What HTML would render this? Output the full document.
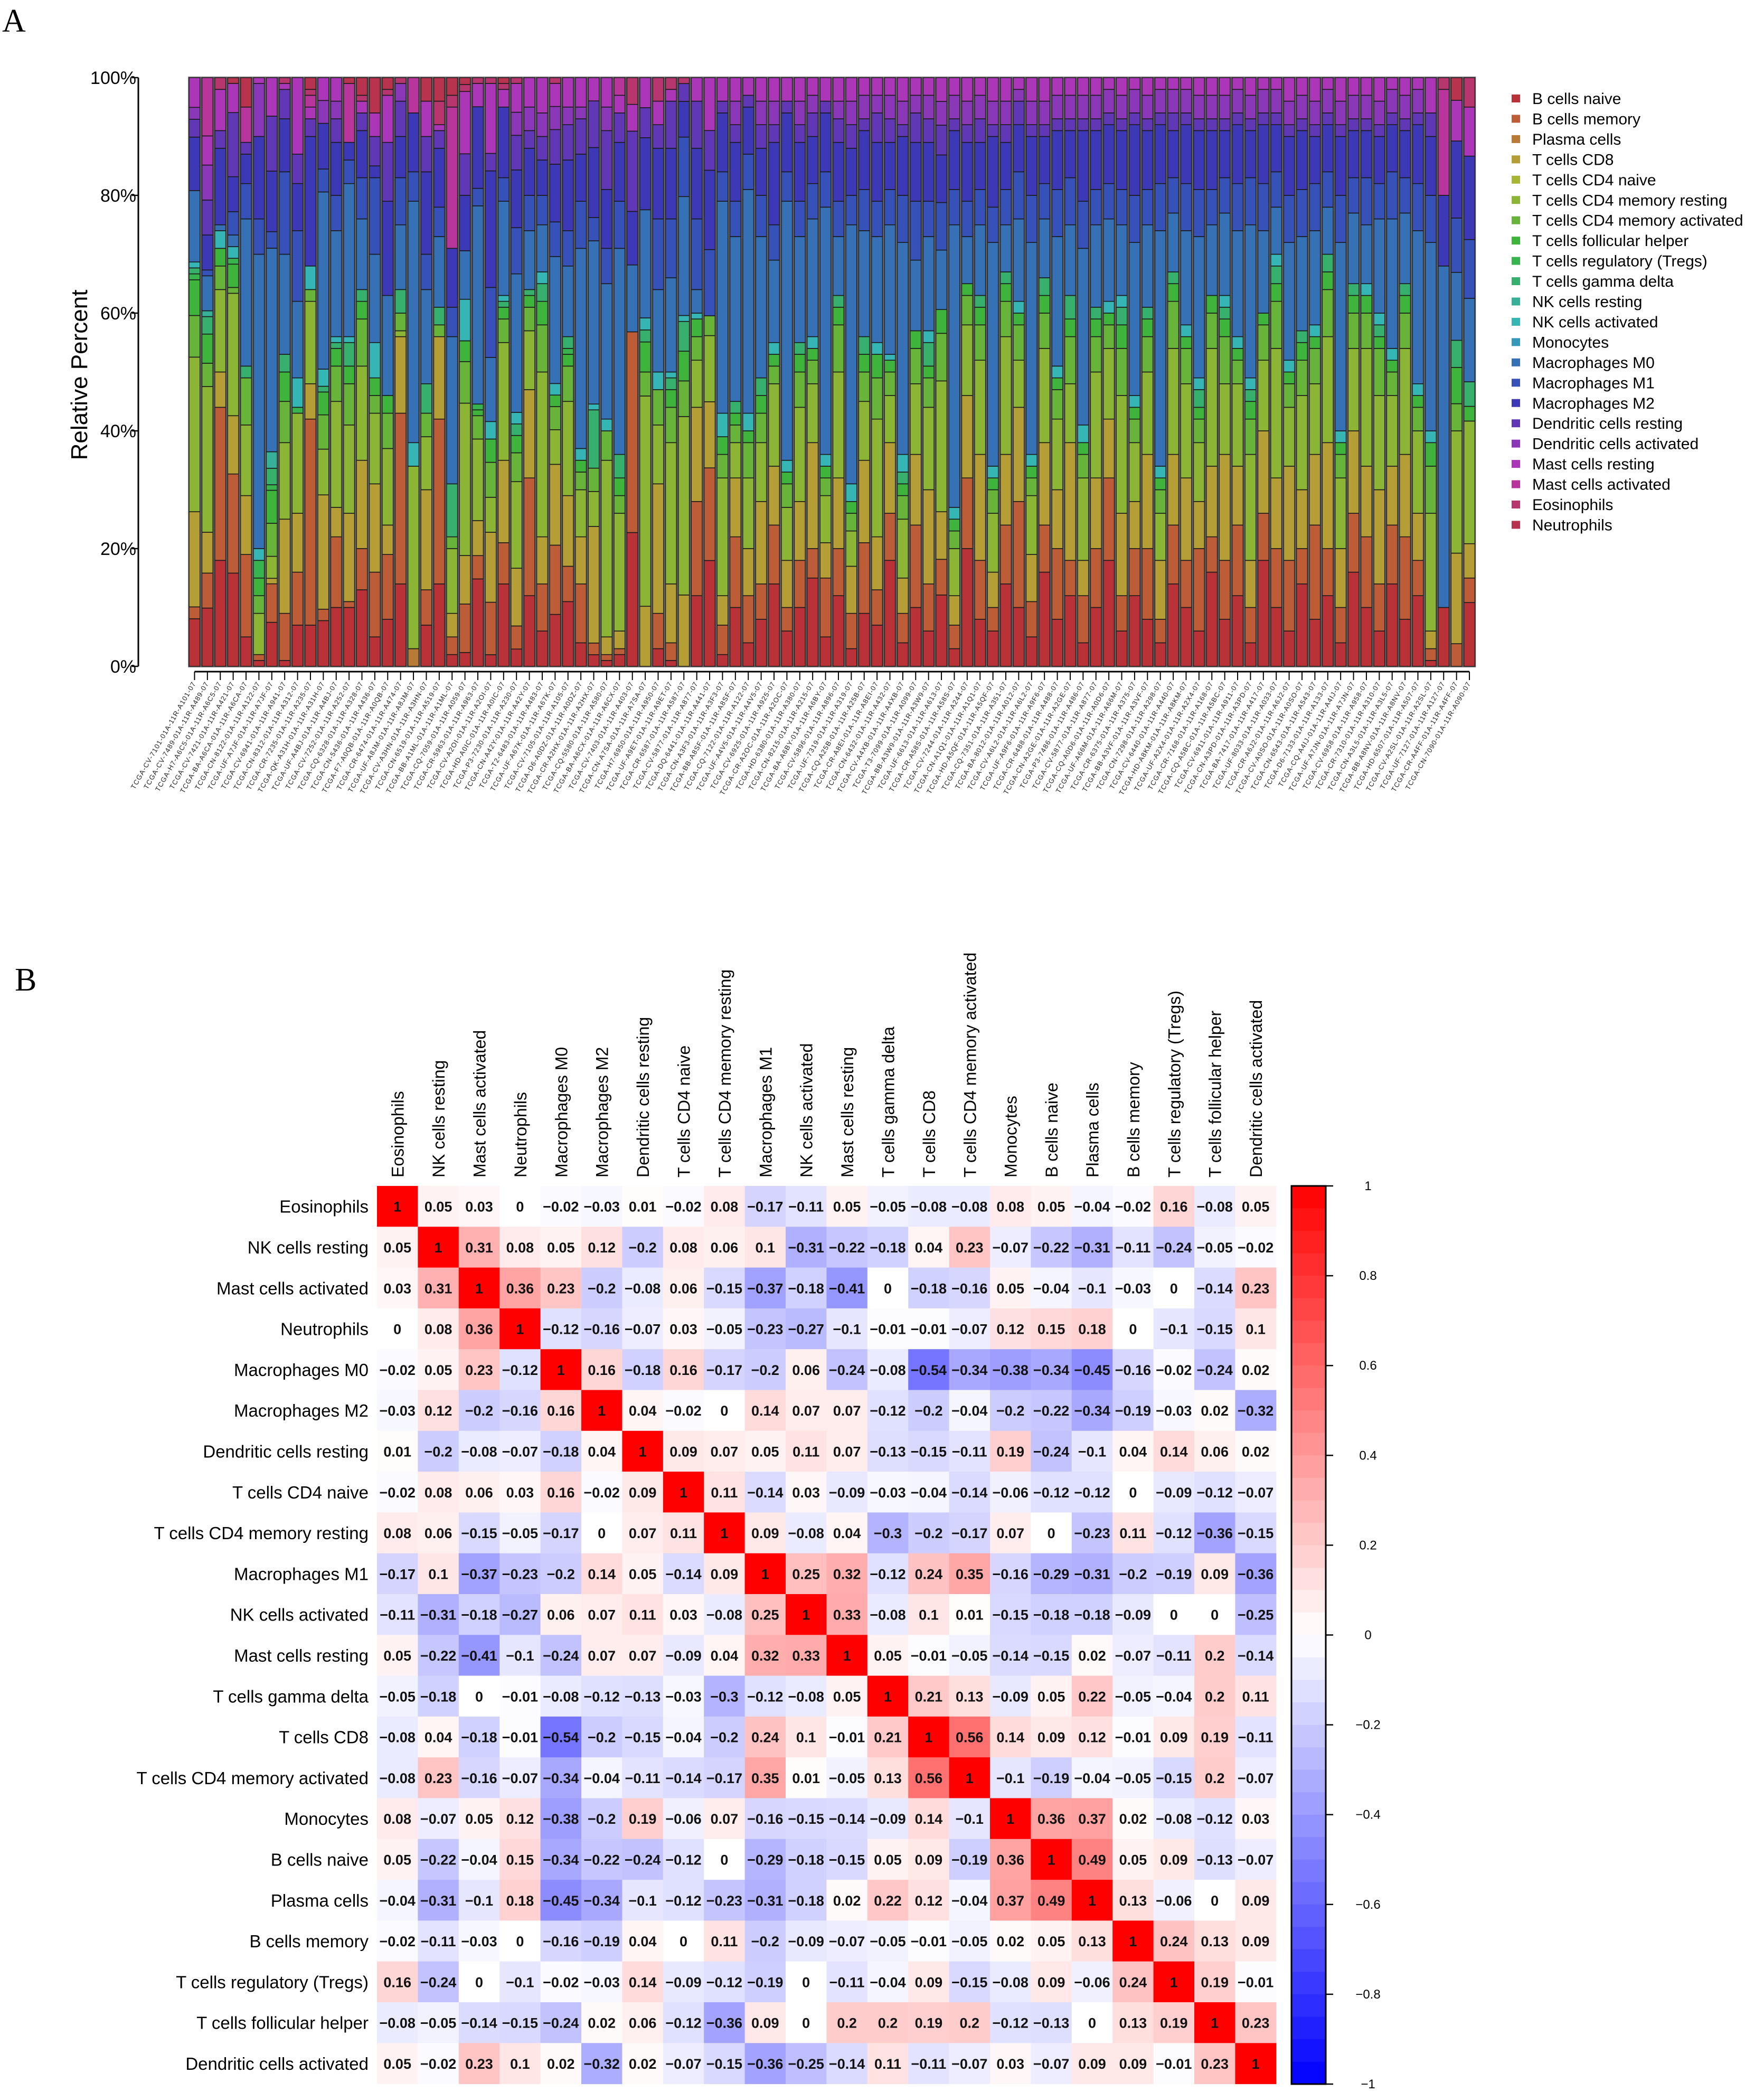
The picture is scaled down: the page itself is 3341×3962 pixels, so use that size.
<!DOCTYPE html>
<html><head><meta charset="utf-8"><style>
html,body{margin:0;padding:0;background:#fff;}
svg{display:block;font-family:"Liberation Sans",sans-serif;}
</style></head><body>
<svg id="fig" width="3341" height="3962" viewBox="0 0 3341 3962" xmlns="http://www.w3.org/2000/svg">
<text x="4" y="60" font-family="Liberation Serif, serif" font-size="62">A</text>
<text x="28" y="1876" font-family="Liberation Serif, serif" font-size="62">B</text>
<g id="panelA"></g>
<g id="legendA"></g>
<g id="panelB"></g>
<g id="cbar"></g>
</svg>
<script>
const cellTypes = ["B cells naive","B cells memory","Plasma cells","T cells CD8","T cells CD4 naive","T cells CD4 memory resting","T cells CD4 memory activated","T cells follicular helper","T cells regulatory (Tregs)","T cells gamma delta","NK cells resting","NK cells activated","Monocytes","Macrophages M0","Macrophages M1","Macrophages M2","Dendritic cells resting","Dendritic cells activated","Mast cells resting","Mast cells activated","Eosinophils","Neutrophils"];
const cellColors = ["#b83238","#bd5d38","#b97a36","#b59e36","#a8b534","#8db535","#68b43a","#3fb43c","#38b44e","#37b06e","#36b096","#36b5b5","#3598bb","#3670b5","#3652b8","#3d38b5","#6037b5","#8a38b8","#ac36b8","#b8369c","#b8366e","#b8344e"];
const samplePrefixes = ["CV","CV","H7","CV","BA","CN","UF","CV","CN","CR","QK","UF","CV","CQ","CN","F7","CR","UF","CV","CN","BB","CQ","CR","CV","HD","P3","CN","T2","UF","CV","D6","CR","CQ","BA","CV","CN","H7","UF","CR","CV","DQ","CN","BB","CQ","UF","CV","CR","HD","CN","BA","CV","UF","CQ","CR","CN","CV","T3","BB","UF","CR","CV","CN","HD","CQ","BA","CV","UF","CR","CN","P3","CV","CQ","UF","CR","BB","CN","CV","HD","UF","CR","CQ","CV","CN","BA","UF","CR","CV","CN","D6","CQ","UF","CV","CR","CN","BB","HD","CV","UF","CR","CN"];
const sampleCodes = ["7101","7489","A6C5","7421","A6CA","8122","A7JF","6941","8312","7235","A31H","A4BJ","7252","6328","5436","A0QB","6474","A8JM","A3HN","6519","A1ML","7059","5963","A2OI","A0IC","7230","A42Y","6483","A67K","7105","A0DZ","A2HX","5580","A6CX","7403","A7SA","6950","A9ET","6587","5877","6441","A3F3","A8SF","7122","A4V5","6925","A2OC","6380","8215","A6BY","5896","7319","A25B","A8EI","6432","A4XB","7099","A3W9","6613","A58S","7244","A1Q1","A5QF","7351","8012","A6L2","A9F6","6488","A2GE","7486","5877","A0D6","A66M","6375","A3VF","7298","6440","A8KM","A2X4","7168","A5BC","6911","A3PD","7417","8033","A6J2","A0SO","6543","7133","A4IJ","A7JN","6958","7310","A3L5","A8NV","6507","A2SL","7127","A4FF","7090"];
const sampleValues = [
[8,2,0,16,0,26,7,6,1,1,0,1,0,12,0,9,3,2,5,0,0,0],
[10,6,0,7,0,25,4,5,0,3,1,0,0,6,1,6,6,6,5,10,0,0],
[18,26,0,6,0,14,4,3,0,0,0,3,0,1,0,13,3,0,7,0,2,0],
[16,17,0,10,0,21,1,4,1,0,0,2,0,2,4,6,11,0,5,0,0,1],
[5,14,0,10,0,12,8,0,0,2,0,0,0,25,6,5,2,0,0,6,0,5],
[1,1,0,0,0,7,3,3,3,0,0,2,0,50,6,14,0,9,1,0,0,0],
[8,7,0,1,0,4,6,6,1,3,3,0,0,37,3,11,10,0,7,0,0,0],
[1,8,0,16,0,13,7,5,0,3,0,0,0,17,14,9,5,0,1,0,1,0],
[7,9,0,10,0,17,0,0,1,0,0,5,0,13,12,8,5,0,13,0,0,0],
[7,35,0,6,0,14,2,0,0,0,0,4,0,0,0,22,3,0,2,2,1,2],
[8,2,0,20,0,8,6,4,0,1,0,3,0,31,4,8,0,4,4,0,0,0],
[10,12,0,5,0,18,6,3,0,1,0,1,0,18,6,9,4,3,4,0,0,0],
[10,1,0,15,0,15,7,3,0,4,0,1,0,26,4,3,0,0,0,10,0,1],
[13,7,0,15,0,16,8,3,0,2,0,0,0,12,7,8,3,0,2,0,1,3],
[5,11,0,15,0,12,3,3,0,0,0,6,0,15,13,2,5,0,4,0,0,6],
[8,11,0,5,0,13,6,3,0,0,0,0,0,17,0,16,10,0,8,0,1,2],
[14,29,0,13,0,1,3,0,0,4,0,0,0,11,8,7,6,3,0,0,1,0],
[0,0,3,0,0,31,0,0,0,0,0,4,0,41,5,10,0,0,0,6,0,0],
[7,6,0,17,0,9,4,0,0,5,0,0,0,16,6,14,6,0,6,0,0,4],
[14,28,0,14,0,0,2,0,0,3,0,0,0,12,5,10,3,0,1,0,4,4],
[2,3,0,4,0,11,2,0,0,9,0,0,0,25,5,10,0,0,0,24,2,3],
[2,7,0,7,0,22,6,3,0,0,0,6,0,7,0,8,6,0,9,0,1,1],
[15,4,0,6,0,14,4,1,1,0,0,0,0,34,3,14,0,0,4,0,1,0],
[2,9,0,12,0,6,6,4,0,0,0,3,0,11,12,20,3,0,12,0,1,0],
[14,7,0,14,0,20,4,2,0,1,0,1,0,16,4,12,0,0,3,0,1,1],
[3,4,0,10,0,15,5,3,0,2,0,2,0,24,8,10,6,4,5,0,1,0],
[12,20,0,15,0,10,4,2,0,1,0,0,0,10,6,8,3,4,5,0,0,0],
[6,8,0,8,0,28,8,4,0,3,0,2,0,8,5,6,4,4,6,0,0,0],
[9,12,0,14,0,6,4,2,0,0,0,2,0,22,6,10,6,4,4,0,1,0],
[11,6,0,12,0,16,6,2,1,2,0,0,0,12,6,12,6,3,5,0,0,0],
[4,10,0,8,0,8,3,2,0,0,0,2,0,34,8,8,6,2,5,0,0,0],
[2,2,0,20,0,6,4,0,0,10,0,1,0,28,4,12,8,0,4,0,0,0],
[1,1,0,3,0,30,5,0,0,0,0,2,0,23,6,10,10,4,5,0,0,0],
[2,1,0,3,0,20,3,3,0,4,0,0,0,35,8,10,5,0,3,3,0,0],
[20,30,0,0,0,0,0,0,0,0,0,0,0,10,0,8,12,0,4,0,4,0],
[0,0,0,10,0,35,4,5,0,2,0,2,0,18,0,12,5,0,5,0,0,0],
[3,6,0,22,0,10,6,0,0,0,0,3,0,14,12,12,4,0,4,0,4,0],
[1,3,0,10,0,24,6,3,0,2,0,1,0,16,10,12,8,0,2,0,2,0],
[0,0,0,12,0,30,6,5,0,5,0,1,0,20,10,6,3,0,0,0,1,0],
[12,16,0,16,0,8,4,3,0,0,0,1,0,4,12,12,8,0,4,0,0,0],
[16,14,0,10,0,10,3,0,0,0,0,0,0,0,10,12,6,0,8,0,0,0],
[2,5,0,5,0,20,4,3,0,0,0,4,0,36,5,10,2,0,4,0,0,0],
[10,12,0,10,0,6,3,2,0,2,0,0,0,28,6,10,3,4,4,0,0,0],
[4,8,0,8,0,12,6,2,0,0,0,3,0,38,6,8,2,0,3,0,0,0],
[8,6,0,14,0,10,5,3,0,3,0,0,0,24,7,8,4,4,4,0,0,0],
[14,10,0,10,0,14,3,2,0,0,0,2,0,14,6,14,3,4,4,0,0,0],
[6,4,0,8,0,9,4,2,0,0,0,2,0,44,5,10,2,0,4,0,0,0],
[10,8,0,10,0,16,6,3,0,2,0,0,0,18,6,10,3,4,4,0,0,0],
[15,5,0,18,0,10,4,2,0,0,0,2,0,20,6,8,4,3,3,0,0,0],
[5,10,0,6,0,8,3,2,0,0,0,2,0,42,6,10,2,0,4,0,0,0],
[12,8,0,12,0,18,8,3,0,2,0,0,0,10,6,10,4,3,4,0,0,0],
[3,6,0,8,0,6,3,2,0,0,0,3,0,44,5,8,4,4,4,0,0,0],
[9,12,0,14,0,10,5,3,0,3,0,0,0,18,7,10,2,4,3,0,0,0],
[7,6,0,9,0,20,7,4,0,0,0,2,0,18,6,10,5,3,3,0,0,0],
[18,8,0,12,0,8,4,2,0,0,0,1,0,22,6,8,4,4,3,0,0,0],
[4,5,0,6,0,10,4,2,0,2,0,3,0,36,8,10,2,4,4,0,0,0],
[10,14,0,12,0,12,6,3,0,0,0,0,0,12,10,10,5,3,3,0,0,0],
[6,8,0,16,0,14,5,2,0,4,0,2,0,16,6,10,4,4,3,0,0,0],
[12,6,0,8,0,22,8,4,0,0,0,0,0,10,8,8,5,4,4,0,0,0],
[3,4,0,5,0,8,3,2,0,0,0,2,0,48,6,10,2,4,3,0,0,0],
[20,12,0,14,0,12,5,2,0,0,0,0,0,8,6,10,3,4,4,0,0,0],
[8,10,0,18,0,16,6,3,0,2,0,0,0,12,6,8,4,4,3,0,0,0],
[6,4,0,6,0,10,4,2,0,0,0,2,0,38,6,12,2,4,4,0,0,0],
[14,10,0,12,0,20,6,3,0,2,0,0,0,8,6,8,3,4,4,0,0,0],
[10,18,0,16,0,8,6,2,0,0,0,2,0,14,8,8,4,2,2,0,0,0],
[5,6,0,8,0,10,3,2,0,0,0,2,0,36,8,10,2,4,4,0,0,0],
[16,8,0,14,0,16,6,3,0,3,0,0,0,10,6,8,2,4,4,0,0,0],
[8,12,0,10,0,12,5,2,0,0,0,2,0,22,8,10,2,4,3,0,0,0],
[12,6,0,20,0,10,8,3,0,4,0,0,0,12,8,8,2,4,3,0,0,0],
[4,8,0,6,0,14,4,2,0,0,0,3,0,30,8,12,2,4,3,0,0,0],
[10,10,0,12,0,18,6,3,0,2,0,0,0,14,6,10,2,4,3,0,0,0],
[18,14,0,10,0,12,4,2,0,0,0,2,0,14,6,10,2,4,2,0,0,0],
[6,6,0,14,0,20,8,4,0,3,0,2,0,12,6,10,2,4,3,0,0,0],
[12,8,0,8,0,10,4,2,0,0,0,2,0,26,8,12,2,4,2,0,0,0],
[8,12,0,16,0,14,6,3,0,2,0,0,0,14,6,10,2,4,3,0,0,0],
[4,4,0,10,0,8,4,2,0,0,0,2,0,40,8,10,2,4,2,0,0,0],
[14,10,0,12,0,18,8,3,0,2,0,0,0,10,6,8,3,4,2,0,0,0],
[10,8,0,14,0,16,6,2,0,0,0,2,0,16,8,10,2,4,2,0,0,0],
[6,14,0,8,0,10,4,2,0,3,0,2,0,24,8,10,2,4,3,0,0,0],
[16,6,0,12,0,20,6,3,0,0,0,0,0,12,6,10,2,4,3,0,0,0],
[8,10,0,18,0,12,8,3,0,2,0,2,0,14,6,8,2,4,3,0,0,0],
[12,12,0,10,0,14,4,2,0,0,0,2,0,18,8,10,2,4,2,0,0,0],
[4,6,0,8,0,18,6,3,0,2,0,2,0,26,8,8,2,4,3,0,0,0],
[18,8,0,14,0,12,6,2,0,0,0,0,0,14,8,10,2,4,2,0,0,0],
[10,10,0,12,0,22,8,3,0,3,0,2,0,8,6,8,2,4,2,0,0,0],
[6,12,0,16,0,10,4,2,0,0,0,2,0,20,8,10,2,4,4,0,0,0],
[14,6,0,10,0,16,6,3,0,2,0,0,0,16,8,10,2,4,3,0,0,0],
[8,16,0,12,0,12,6,2,0,0,0,2,0,16,8,8,2,4,4,0,0,0],
[12,8,0,18,0,18,8,3,0,3,0,0,0,8,6,8,2,4,2,0,0,0],
[4,6,0,10,0,12,4,2,0,0,0,2,0,32,8,10,2,4,4,0,0,0],
[16,10,0,14,0,14,6,3,0,2,0,0,0,12,6,8,2,4,3,0,0,0],
[10,12,0,12,0,20,6,3,0,0,0,2,0,10,8,8,2,4,3,0,0,0],
[6,8,0,16,0,16,8,2,0,2,0,2,0,16,6,8,2,4,4,0,0,0],
[14,10,0,10,0,12,4,2,0,0,0,2,0,22,8,8,2,4,2,0,0,0],
[8,14,0,14,0,18,6,3,0,2,0,0,0,12,6,8,2,4,3,0,0,0],
[12,6,0,8,0,14,4,2,0,0,0,2,0,26,8,10,2,4,2,0,0,0],
[1,2,0,3,0,20,8,4,0,0,0,2,0,32,8,10,4,0,6,0,0,0],
[10,0,0,0,0,0,0,0,0,0,0,0,0,58,0,12,0,0,0,18,2,0],
[0,5,0,20,0,27,6,8,0,6,0,0,0,15,12,17,0,0,9,0,0,5],
[13,5,0,7,0,25,0,3,0,5,0,0,0,17,12,17,0,0,10,0,6,0]
];
const yTicks = [0,20,40,60,80,100];

const hmLabels = ["Eosinophils","NK cells resting","Mast cells activated","Neutrophils","Macrophages M0","Macrophages M2","Dendritic cells resting","T cells CD4 naive","T cells CD4 memory resting","Macrophages M1","NK cells activated","Mast cells resting","T cells gamma delta","T cells CD8","T cells CD4 memory activated","Monocytes","B cells naive","Plasma cells","B cells memory","T cells regulatory (Tregs)","T cells follicular helper","Dendritic cells activated"];
const corr = [
[1,0.05,0.03,0,-0.02,-0.03,0.01,-0.02,0.08,-0.17,-0.11,0.05,-0.05,-0.08,-0.08,0.08,0.05,-0.04,-0.02,0.16,-0.08,0.05],
[0.05,1,0.31,0.08,0.05,0.12,-0.2,0.08,0.06,0.1,-0.31,-0.22,-0.18,0.04,0.23,-0.07,-0.22,-0.31,-0.11,-0.24,-0.05,-0.02],
[0.03,0.31,1,0.36,0.23,-0.2,-0.08,0.06,-0.15,-0.37,-0.18,-0.41,0,-0.18,-0.16,0.05,-0.04,-0.1,-0.03,0,-0.14,0.23],
[0,0.08,0.36,1,-0.12,-0.16,-0.07,0.03,-0.05,-0.23,-0.27,-0.1,-0.01,-0.01,-0.07,0.12,0.15,0.18,0,-0.1,-0.15,0.1],
[-0.02,0.05,0.23,-0.12,1,0.16,-0.18,0.16,-0.17,-0.2,0.06,-0.24,-0.08,-0.54,-0.34,-0.38,-0.34,-0.45,-0.16,-0.02,-0.24,0.02],
[-0.03,0.12,-0.2,-0.16,0.16,1,0.04,-0.02,0,0.14,0.07,0.07,-0.12,-0.2,-0.04,-0.2,-0.22,-0.34,-0.19,-0.03,0.02,-0.32],
[0.01,-0.2,-0.08,-0.07,-0.18,0.04,1,0.09,0.07,0.05,0.11,0.07,-0.13,-0.15,-0.11,0.19,-0.24,-0.1,0.04,0.14,0.06,0.02],
[-0.02,0.08,0.06,0.03,0.16,-0.02,0.09,1,0.11,-0.14,0.03,-0.09,-0.03,-0.04,-0.14,-0.06,-0.12,-0.12,0,-0.09,-0.12,-0.07],
[0.08,0.06,-0.15,-0.05,-0.17,0,0.07,0.11,1,0.09,-0.08,0.04,-0.3,-0.2,-0.17,0.07,0,-0.23,0.11,-0.12,-0.36,-0.15],
[-0.17,0.1,-0.37,-0.23,-0.2,0.14,0.05,-0.14,0.09,1,0.25,0.32,-0.12,0.24,0.35,-0.16,-0.29,-0.31,-0.2,-0.19,0.09,-0.36],
[-0.11,-0.31,-0.18,-0.27,0.06,0.07,0.11,0.03,-0.08,0.25,1,0.33,-0.08,0.1,0.01,-0.15,-0.18,-0.18,-0.09,0,0,-0.25],
[0.05,-0.22,-0.41,-0.1,-0.24,0.07,0.07,-0.09,0.04,0.32,0.33,1,0.05,-0.01,-0.05,-0.14,-0.15,0.02,-0.07,-0.11,0.2,-0.14],
[-0.05,-0.18,0,-0.01,-0.08,-0.12,-0.13,-0.03,-0.3,-0.12,-0.08,0.05,1,0.21,0.13,-0.09,0.05,0.22,-0.05,-0.04,0.2,0.11],
[-0.08,0.04,-0.18,-0.01,-0.54,-0.2,-0.15,-0.04,-0.2,0.24,0.1,-0.01,0.21,1,0.56,0.14,0.09,0.12,-0.01,0.09,0.19,-0.11],
[-0.08,0.23,-0.16,-0.07,-0.34,-0.04,-0.11,-0.14,-0.17,0.35,0.01,-0.05,0.13,0.56,1,-0.1,-0.19,-0.04,-0.05,-0.15,0.2,-0.07],
[0.08,-0.07,0.05,0.12,-0.38,-0.2,0.19,-0.06,0.07,-0.16,-0.15,-0.14,-0.09,0.14,-0.1,1,0.36,0.37,0.02,-0.08,-0.12,0.03],
[0.05,-0.22,-0.04,0.15,-0.34,-0.22,-0.24,-0.12,0,-0.29,-0.18,-0.15,0.05,0.09,-0.19,0.36,1,0.49,0.05,0.09,-0.13,-0.07],
[-0.04,-0.31,-0.1,0.18,-0.45,-0.34,-0.1,-0.12,-0.23,-0.31,-0.18,0.02,0.22,0.12,-0.04,0.37,0.49,1,0.13,-0.06,0,0.09],
[-0.02,-0.11,-0.03,0,-0.16,-0.19,0.04,0,0.11,-0.2,-0.09,-0.07,-0.05,-0.01,-0.05,0.02,0.05,0.13,1,0.24,0.13,0.09],
[0.16,-0.24,0,-0.1,-0.02,-0.03,0.14,-0.09,-0.12,-0.19,0,-0.11,-0.04,0.09,-0.15,-0.08,0.09,-0.06,0.24,1,0.19,-0.01],
[-0.08,-0.05,-0.14,-0.15,-0.24,0.02,0.06,-0.12,-0.36,0.09,0,0.2,0.2,0.19,0.2,-0.12,-0.13,0,0.13,0.19,1,0.23],
[0.05,-0.02,0.23,0.1,0.02,-0.32,0.02,-0.07,-0.15,-0.36,-0.25,-0.14,0.11,-0.11,-0.07,0.03,-0.07,0.09,0.09,-0.01,0.23,1]
];
const cbTicks = [1,0.8,0.6,0.4,0.2,0,-0.2,-0.4,-0.6,-0.8,-1];

const NS = "http://www.w3.org/2000/svg";
function mk(tag, attrs, parent) {
  const e = document.createElementNS(NS, tag);
  for (const k in attrs) e.setAttribute(k, attrs[k]);
  parent.appendChild(e);
  return e;
}
const fmt = v => String(v).replace('-', '\u2212');

// ---------- Panel A ----------
const gA = document.getElementById('panelA');
const plotL = 358, plotR = 2797, yTop = 147, yBot = 1262;
const pitch = (plotR - plotL) / sampleValues.length;
const barW = pitch - 3.5;
const yScale = p => yBot - (yBot - yTop) * p / 100;
const xScale = i => plotL + i * pitch;

sampleValues.forEach((row, i) => {
  const total = row.reduce((a, b) => a + b, 0);
  const x = xScale(i);
  const bar = mk('g', {}, gA);
  
  
  let cum = 0;
  row.forEach((v, k) => {
    if (v <= 0) return;
    const p0 = cum / total * 100, p1 = (cum + v) / total * 100;
    cum += v;
    const r = mk('rect', {x: x, y: yScale(p1), width: barW, height: yScale(p0) - yScale(p1), fill: cellColors[k], stroke: '#1a1a1a', 'stroke-width': 1.6}, bar);
    
    
  });
  const o = mk('rect', {x: x - 1, y: yTop - 1, width: barW + 2, height: yBot - yTop + 2, fill: 'none', stroke: '#555', 'stroke-width': 1.5}, bar);
  
  
  // x tick + label
  const cx = x + barW / 2;
  mk('line', {x1: cx, y1: 1272, x2: cx, y2: 1288, stroke: '#000', 'stroke-width': 2}, gA);
  const t = mk('text', {x: 0, y: 0, 'font-size': 13, 'letter-spacing': 1.2, fill: '#222', 'text-anchor': 'end', transform: 'translate(' + (cx + 3) + ',1294) rotate(-60)'}, gA);
  t.textContent = 'TCGA-' + samplePrefixes[i] + '-' + sampleCodes[i] + '-01A-11R-A' + sampleCodes[i].slice(-3) + '-07';
  
  
});
mk('line', {x1: xScale(0) + barW / 2, y1: 1272, x2: xScale(sampleValues.length - 1) + barW / 2, y2: 1272, stroke: '#000', 'stroke-width': 3}, gA);
// y axis
const yAx = mk('line', {x1: 262, y1: yTop, x2: 262, y2: yBot, stroke: '#000', 'stroke-width': 3}, gA);


yTicks.forEach(t => {
  mk('line', {x1: 250, y1: yScale(t), x2: 262, y2: yScale(t), stroke: '#000', 'stroke-width': 2.5}, gA);
  const tx = mk('text', {x: 258, y: yScale(t) + 12, 'font-size': 34, 'text-anchor': 'end'}, gA);
  tx.textContent = t + '%';
  
  
});
const yt = mk('text', {x: 0, y: 0, 'font-size': 44, 'text-anchor': 'middle', transform: 'translate(165,710) rotate(-90)'}, gA);
yt.textContent = 'Relative Percent';



// legend
const gL = document.getElementById('legendA');
cellTypes.forEach((n, k) => {
  const y = 187 + k * 38.45;
  const it = mk('g', {}, gL);
  
  
  mk('rect', {x: 2863, y: y - 8, width: 16, height: 15, fill: cellColors[k]}, it);
  const tx = mk('text', {x: 2902, y: y + 10, 'font-size': 30}, it);
  tx.textContent = n;
});

// ---------- Panel B ----------
const gB = document.getElementById('panelB');
const hx0 = 714, hy0 = 2246, cw = 77.4, ch = 77.3;
function col(v) {
  if (v >= 0) { const c = Math.round(255 * (1 - v)); return 'rgb(255,' + c + ',' + c + ')'; }
  const c = Math.round(255 * (1 + v)); return 'rgb(' + c + ',' + c + ',255)';
}
corr.forEach((row, r) => {
  row.forEach((v, c) => {
    const cell = mk('g', {}, gB);
    
    
    mk('rect', {x: hx0 + c * cw, y: hy0 + r * ch, width: cw + 0.5, height: ch + 0.5, fill: col(v)}, cell);
    const t = mk('text', {x: hx0 + (c + 0.5) * cw, y: hy0 + (r + 0.5) * ch + 10, 'font-size': 27, 'font-weight': 'bold', 'text-anchor': 'middle', fill: '#111'}, cell);
    t.textContent = fmt(v);
  });
  const rl = mk('text', {x: 698, y: hy0 + (r + 0.5) * ch + 12, 'font-size': 33, 'text-anchor': 'end'}, gB);
  rl.textContent = hmLabels[r];
  
  
  const cl = mk('text', {x: 0, y: 0, 'font-size': 32, 'text-anchor': 'start', transform: 'translate(' + (hx0 + (r + 0.5) * cw + 12) + ',2230) rotate(-90)'}, gB);
  cl.textContent = hmLabels[r];
  
  
});

// colorbar
const gC = document.getElementById('cbar');
const cbTop = 2246, cbBot = 3947, cbL = 2446, cbR = 2511;
const cbY = v => cbTop + (1 - v) / 2 * (cbBot - cbTop);
const nSteps = 40;
for (let s = 0; s < nSteps; s++) {
  const v1 = 1 - s * 2 / nSteps, v2 = v1 - 2 / nSteps;
  mk('rect', {x: cbL, y: cbY(v1), width: cbR - cbL, height: cbY(v2) - cbY(v1) + 0.5, fill: col((v1 + v2) / 2)}, gC);
}
mk('rect', {x: cbL, y: cbTop, width: cbR - cbL, height: cbBot - cbTop, fill: 'none', stroke: '#000', 'stroke-width': 3}, gC);
cbTicks.forEach(v => {
  mk('line', {x1: cbR, y1: cbY(v), x2: 2525, y2: cbY(v), stroke: '#000', 'stroke-width': 2.5}, gC);
  const t = mk('text', {x: 2591, y: cbY(v) + 8, 'font-size': 24, 'text-anchor': 'middle'}, gC);
  t.textContent = fmt(v);
  
  
});
</script>
</body></html>
